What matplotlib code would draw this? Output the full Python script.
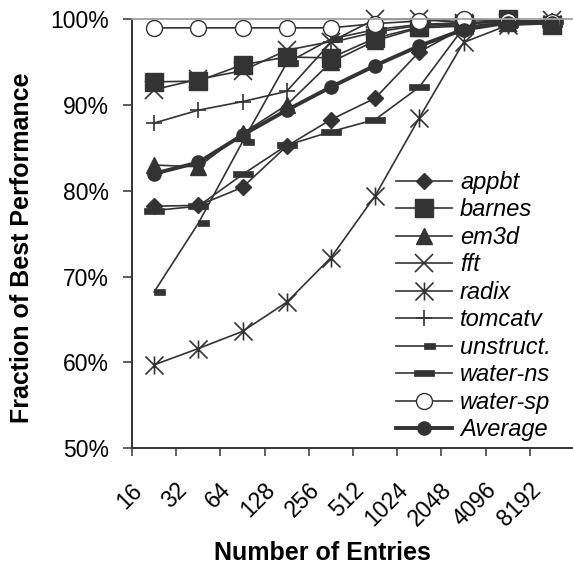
import numpy as np
import matplotlib
matplotlib.use('Agg')
import matplotlib.pyplot as plt
from matplotlib.path import Path
from matplotlib.transforms import ScaledTranslation

plt.rcParams['font.family'] = ['Liberation Sans', 'DejaVu Sans']

# table sizes on the x axis
entries = ['16', '32', '64', '128', '256', '512', '1024', '2048', '4096', '8192']

# fraction of best performance, in percent
appbt    = [78.2, 78.3, 80.4, 85.2, 88.3, 90.8, 96.2, 99.0, 99.5, 99.6]
barnes   = [92.7, 92.8, 94.7, 95.6, 95.5, 97.8, 99.1, 99.4, 100.0, 99.3]
em3d     = [83.0, 82.8, 86.7, 90.0, 95.0, 97.5, 99.0, 99.2, 99.6, 99.7]
fft      = [91.8, 93.0, 94.0, 96.4, 97.4, 100.0, 100.0, 99.6, 99.6, 99.9]
radix    = [59.7, 61.6, 63.6, 67.0, 72.2, 79.4, 88.5, 97.3, 99.3, 99.5]
tomcatv  = [87.9, 89.4, 90.4, 91.6, 97.3, 98.5, 99.3, 99.5, 99.7, 99.8]
unstruct = [68.2, 76.2, 85.7, 94.9, 97.7, 98.8, 99.4, 99.6, 99.8, 99.8]
water_ns = [77.7, 78.2, 81.9, 85.3, 86.9, 88.3, 92.1, 99.0, 99.5, 99.5]
water_sp = [99.0, 99.0, 99.0, 99.0, 99.0, 99.5, 99.8, 100.0, 99.8, 99.7]
average  = [82.0, 83.3, 86.5, 89.4, 92.1, 94.6, 96.9, 98.8, 99.6, 99.6]

yticks = [50, 60, 70, 80, 90, 100]

# excel style markers that matplotlib doesn't have
asterisk = Path([(-1, -1), (1, 1), (-1, 1), (1, -1), (0, -1), (0, 1)],
                [Path.MOVETO, Path.LINETO] * 3)
short_dash = Path([(0, -0.23), (1, -0.23), (1, 0.23), (0, 0.23), (0, -0.23)],
                  [Path.MOVETO] + [Path.LINETO] * 3 + [Path.CLOSEPOLY])
long_dash = Path([(-1, -0.27), (1, -0.27), (1, 0.27), (-1, 0.27), (-1, -0.27)],
                 [Path.MOVETO] + [Path.LINETO] * 3 + [Path.CLOSEPOLY])

dk = '#333333'
fig = plt.figure(figsize=(5.73, 5.67), dpi=100)
ax = fig.add_axes([132/573, 119/567, 442/573, 428.7/567])

x = np.arange(len(entries))
common = dict(color=dk, lw=1.2, clip_on=False)
ax.plot(x, appbt, marker='D', ms=8.6, mfc=dk, mec=dk, label='appbt', **common)
ax.plot(x, barnes, marker='s', ms=12.5, mfc=dk, mec=dk, label='barnes', **common)
ax.plot(x, em3d, marker='^', ms=12, mfc=dk, mec=dk, label='em3d', **common)
ax.plot(x, fft, marker='x', ms=13, mew=1.2, mec=dk, label='fft', **common)
ax.plot(x, radix, marker=asterisk, ms=13, mew=1.2, mfc='none', mec=dk, label='radix', **common)
ax.plot(x, tomcatv, marker='+', ms=12, mew=1.2, mec=dk, label='tomcatv', **common)
ax.plot(x, unstruct, marker=short_dash, ms=15.8, mew=0.5, mfc=dk, mec=dk, label='unstruct.', **common)
ax.plot(x, water_ns, marker=long_dash, ms=13.7, mew=0.5, mfc=dk, mec=dk, label='water-ns', **common)
ax.plot(x, water_sp, marker='o', ms=11.5, mew=1.0, mfc='white', mec=dk, label='water-sp', **common)
ax.plot(x, average, marker='o', ms=9.5, mfc=dk, mec=dk, color=dk, lw=2.8,
        clip_on=False, label='Average')

ax.set_xlim(-0.5, len(entries) - 0.5)
ax.set_ylim(50, 100)
ax.set_yticks(yticks)
ax.set_yticklabels(['%d%%' % v for v in yticks], fontsize=16.5)
ax.tick_params(axis='y', direction='out', length=6.5, width=1.1, color=dk, pad=10)

# category labels in the middle, tick marks between categories
ax.set_xticks(x)
ax.set_xticks(np.arange(len(entries)) - 0.5, minor=True)
ax.tick_params(axis='x', which='major', length=0, pad=28)
ax.tick_params(axis='x', which='minor', direction='out', length=6, width=1.1, color=dk)
ax.set_xticklabels(entries, fontsize=16.5, rotation=45, ha='right', va='center',
                   rotation_mode='anchor')
shift = ScaledTranslation(-15/100, 0, fig.dpi_scale_trans)
for lbl in ax.get_xticklabels():
    lbl.set_transform(lbl.get_transform() + shift)

for s in ['left', 'bottom']:
    ax.spines[s].set_color(dk)
    ax.spines[s].set_linewidth(1.4)
ax.spines['top'].set_color('#a0a0a0')
ax.spines['top'].set_linewidth(1.3)
ax.spines['right'].set_visible(False)

fig.text(22/573, 1 - 247.5/567, 'Fraction of Best Performance', rotation=90,
         ha='center', va='center', fontsize=18, fontweight='bold')
fig.text(322.5/573, 1 - 553/567, 'Number of Entries', ha='center', va='center',
         fontsize=18, fontweight='bold')

leg = ax.legend(loc='upper left', bbox_to_anchor=(396/573, 1 - 171/567),
                bbox_transform=fig.transFigure, frameon=False, borderpad=0,
                borderaxespad=0, handlelength=2.37, handletextpad=0.34,
                labelspacing=0.19, numpoints=1,
                prop={'size': 17, 'style': 'italic'})

fig.savefig('out.png', dpi=100)
